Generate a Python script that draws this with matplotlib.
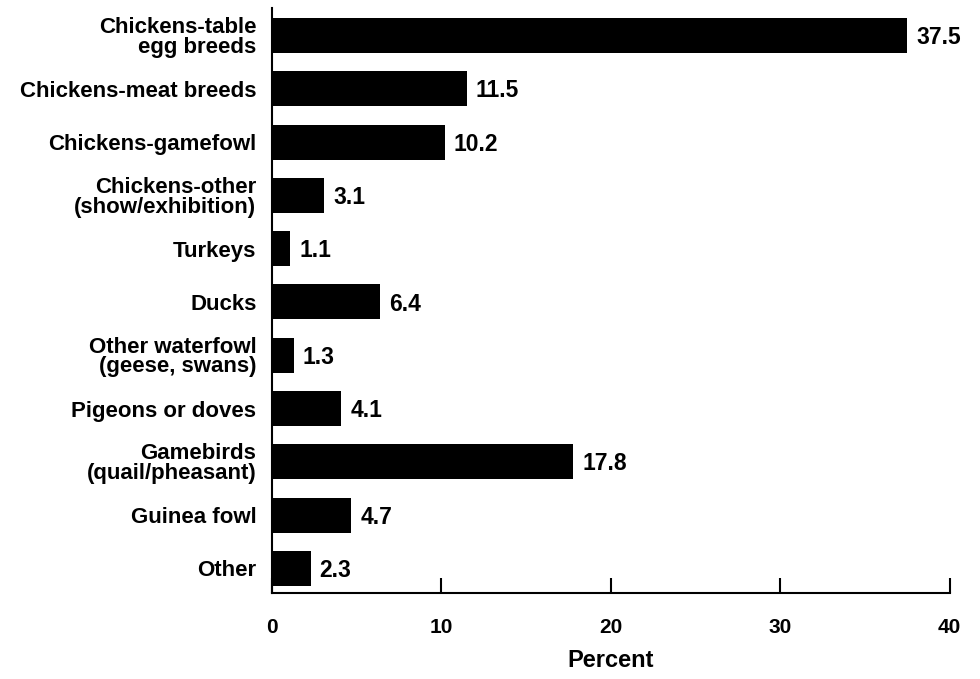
import matplotlib
matplotlib.use("Agg")
import matplotlib.pyplot as plt
from matplotlib import font_manager

# dati
categorie = [
    "Chickens-table\negg breeds",
    "Chickens-meat breeds",
    "Chickens-gamefowl",
    "Chickens-other\n(show/exhibition)",
    "Turkeys",
    "Ducks",
    "Other waterfowl\n(geese, swans)",
    "Pigeons or doves",
    "Gamebirds\n(quail/pheasant)",
    "Guinea fowl",
    "Other",
]
percentuali = [37.5, 11.5, 10.2, 3.1, 1.1, 6.4, 1.3, 4.1, 17.8, 4.7, 2.3]
tick_x = [0, 10, 20, 30, 40]

nomi_font = set(f.name for f in font_manager.fontManager.ttflist)
if "Liberation Sans Narrow" in nomi_font:
    font_stretto = "Liberation Sans Narrow"
    dim_tick = 16
    dim_percent = 20
else:
    font_stretto = "Liberation Sans"
    dim_tick = 15
    dim_percent = 17

plt.rcParams["font.family"] = ["Liberation Sans", "DejaVu Sans"]

fig = plt.figure(figsize=(9.8, 6.79), dpi=100)
ax = fig.add_axes([0.2772, 0.1267, 0.6918, 0.8615])

pos = list(range(len(categorie)))
ax.barh(pos, percentuali, height=0.657, color="black")

# etichette dei valori
for p, v in zip(pos, percentuali):
    ax.annotate("%.1f" % v, (v, p), xytext=(6.5, -1.5), textcoords="offset points",
                ha="left", va="center", fontsize=16.5, fontweight="bold")

ax.set_ylim(10.46, -0.516)
ax.set_xlim(0, 40)
ax.set_yticks(pos)
ax.set_yticklabels(categorie, fontsize=16, fontweight="bold", linespacing=0.92)
ax.tick_params(axis="y", length=0, pad=11)

ax.set_xticks(tick_x)
ax.set_xticklabels([str(t) for t in tick_x], fontsize=dim_tick, fontweight="bold",
                   family=font_stretto)
ax.tick_params(axis="x", direction="in", length=11, width=1.5, pad=18)

ax.set_xlabel("Percent", fontsize=dim_percent, fontweight="bold",
              family=font_stretto, labelpad=9)

for lato in ["top", "right"]:
    ax.spines[lato].set_visible(False)
for lato in ["left", "bottom"]:
    ax.spines[lato].set_linewidth(1.5)

fig.savefig("out.png", dpi=100)
